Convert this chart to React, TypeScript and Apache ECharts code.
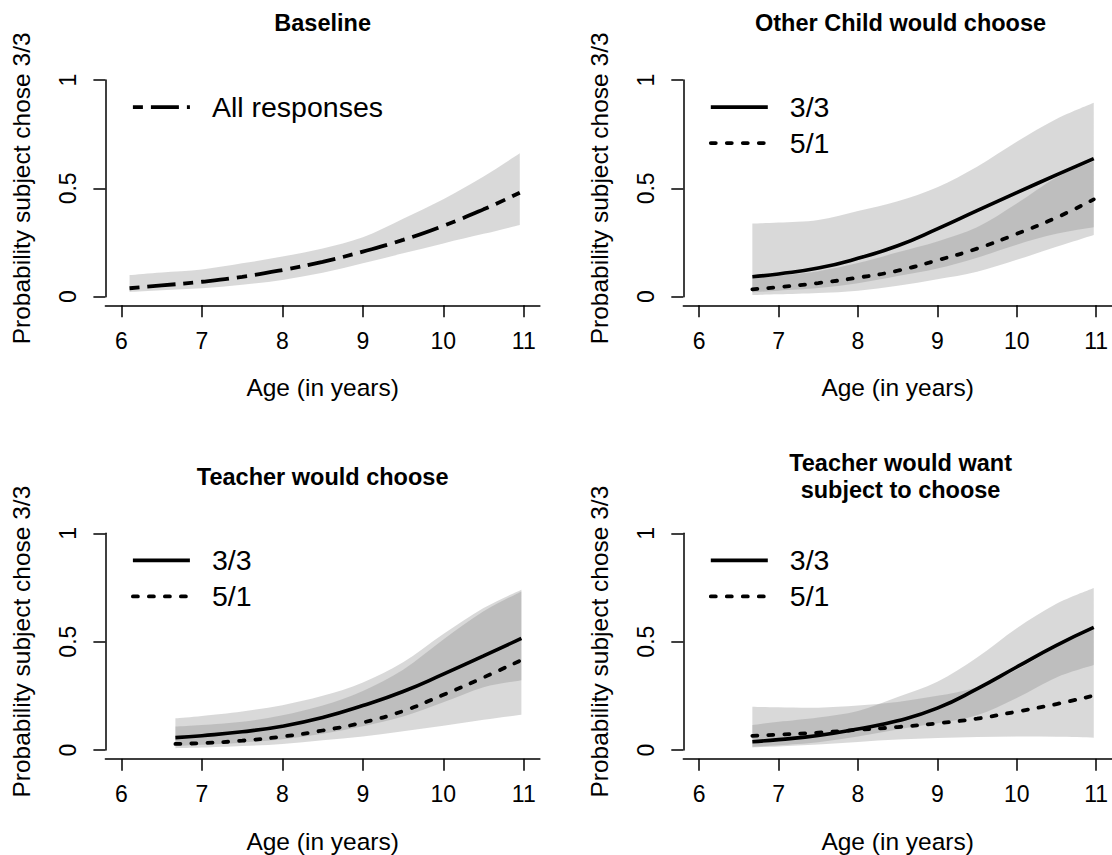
import React, { useEffect, useRef } from "react";
import * as echarts from "echarts";

// ---------- data ----------
const xTicks = [6, 7, 8, 9, 10, 11];
const yTicks = [0, 0.5, 1];

const panelTitles = [
  "Baseline",
  "Other Child would choose",
  "Teacher would choose",
  "Teacher would want\nsubject to choose",
];
const xAxisTitle = "Age (in years)";
const yAxisTitle = "Probability subject chose 3/3";
const legendBaseline = ["All responses"];
const legendCond = ["3/3", "5/1"];

// Baseline
const agesBaseline = [6.1, 6.5, 7, 7.5, 8, 8.5, 9, 9.5, 10, 10.5, 10.95];
const baselineFit = [0.039, 0.052, 0.069, 0.092, 0.123, 0.161, 0.208, 0.262, 0.327, 0.403, 0.48];
const baselineLow = [0.022, 0.03, 0.039, 0.055, 0.077, 0.11, 0.154, 0.2, 0.246, 0.29, 0.331];
const baselineHigh = [0.1, 0.112, 0.126, 0.154, 0.185, 0.223, 0.274, 0.36, 0.45, 0.555, 0.662];

// Conditions (shared ages)
const agesCond = [6.67, 7, 7.5, 8, 8.5, 9, 9.5, 10, 10.5, 10.97];

// Other Child would choose
const otherFit33 = [0.092, 0.105, 0.132, 0.177, 0.235, 0.313, 0.397, 0.48, 0.562, 0.637];
const otherLow33 = [0.02, 0.028, 0.04, 0.062, 0.095, 0.13, 0.18, 0.24, 0.29, 0.32];
const otherHigh33 = [0.338, 0.342, 0.354, 0.395, 0.44, 0.505, 0.6, 0.715, 0.82, 0.895];
const otherFit51 = [0.034, 0.044, 0.063, 0.088, 0.12, 0.168, 0.222, 0.29, 0.365, 0.449];
const otherLow51 = [0.008, 0.011, 0.017, 0.028, 0.05, 0.08, 0.115, 0.17, 0.23, 0.285];
const otherHigh51 = [0.085, 0.097, 0.118, 0.155, 0.205, 0.255, 0.32, 0.43, 0.55, 0.625];

// Teacher would choose
const teacherFit33 = [0.057, 0.066, 0.084, 0.11, 0.15, 0.205, 0.27, 0.35, 0.434, 0.515];
const teacherLow33 = [0.018, 0.024, 0.034, 0.05, 0.075, 0.11, 0.155, 0.22, 0.29, 0.322];
const teacherHigh33 = [0.146, 0.157, 0.178, 0.207, 0.25, 0.312, 0.405, 0.535, 0.655, 0.74];
const teacherFit51 = [0.028, 0.032, 0.043, 0.062, 0.09, 0.127, 0.18, 0.255, 0.335, 0.415];
const teacherLow51 = [0.008, 0.011, 0.018, 0.028, 0.045, 0.062, 0.087, 0.112, 0.14, 0.163];
const teacherHigh51 = [0.108, 0.115, 0.13, 0.16, 0.205, 0.272, 0.37, 0.51, 0.64, 0.732];

// Teacher would want subject to choose
const wantFit33 = [0.038, 0.048, 0.067, 0.097, 0.135, 0.193, 0.282, 0.383, 0.483, 0.566];
const wantLow33 = [0.015, 0.022, 0.036, 0.062, 0.095, 0.123, 0.16, 0.24, 0.335, 0.392];
const wantHigh33 = [0.115, 0.13, 0.15, 0.18, 0.245, 0.315, 0.427, 0.562, 0.675, 0.748];
const wantFit51 = [0.065, 0.071, 0.08, 0.093, 0.106, 0.123, 0.145, 0.177, 0.212, 0.251];
const wantLow51 = [0.012, 0.016, 0.025, 0.037, 0.048, 0.055, 0.06, 0.062, 0.061, 0.057];
const wantHigh51 = [0.2, 0.197, 0.195, 0.205, 0.222, 0.25, 0.29, 0.37, 0.475, 0.555];

// ---------- layout & styles ----------
const FONT = "'Liberation Sans', Arial, Helvetica, sans-serif";
const PLOT_W = 434.5;
const UNIT_Y = 216.7;
const X_MIN = 5.8;
const X_MAX = 11.2;
const Y_PAD = 0.04;
const BAND = "rgba(128,128,128,0.3)";
const layouts = [
  { left: 105.4, tick1: 80, titleY: 23.3 },
  { left: 683.3, tick1: 80, titleY: 23.3 },
  { left: 105.4, tick1: 533.3, titleY: 476.7 },
  { left: 683.3, tick1: 533.3, titleY: 476.7 },
];
const solidStyle = { color: "#000", width: 3.6, type: "solid" };
const dottedStyle = { color: "#000", width: 3.8, type: [5, 11], cap: "round" };
const twodashStyle = { color: "#000", width: 3.8, type: [10, 8, 28, 8], cap: "butt" };

const pairs = (xs: number[], ys: number[]) => xs.map((x, i) => [x, ys[i]]);

// Catmull-Rom spline through screen points, as cubic bezier commands
function splineCmds(pts: number[][]) {
  let d = "";
  for (let i = 0; i < pts.length - 1; i++) {
    const p0 = pts[i - 1] || pts[i];
    const p1 = pts[i];
    const p2 = pts[i + 1];
    const p3 = pts[i + 2] || p2;
    const c1x = p1[0] + (p2[0] - p0[0]) / 6;
    const c1y = p1[1] + (p2[1] - p0[1]) / 6;
    const c2x = p2[0] - (p3[0] - p1[0]) / 6;
    const c2y = p2[1] - (p3[1] - p1[1]) / 6;
    d += ` C${c1x.toFixed(2)} ${c1y.toFixed(2)} ${c2x.toFixed(2)} ${c2y.toFixed(2)} ${p2[0].toFixed(2)} ${p2[1].toFixed(2)}`;
  }
  return d;
}

function band(id: string, axis: number, ages: number[], low: number[], high: number[]) {
  return {
    type: "custom",
    name: id,
    coordinateSystem: "cartesian2d",
    xAxisIndex: axis,
    yAxisIndex: axis,
    silent: true,
    z: 1,
    encode: { x: 0, y: [1, 2] },
    data: ages.map((a, i) => [a, low[i], high[i]]),
    renderItem: (params: any, api: any) => {
      if (params.dataIndex !== 0) return null;
      const n = ages.length;
      const upper: number[][] = [];
      const lower: number[][] = [];
      for (let i = 0; i < n; i++) {
        const x = api.value(0, i);
        upper.push(api.coord([x, api.value(2, i)]));
        lower.push(api.coord([x, api.value(1, i)]));
      }
      lower.reverse();
      const d =
        `M${upper[0][0].toFixed(2)} ${upper[0][1].toFixed(2)}` +
        splineCmds(upper) +
        ` L${lower[0][0].toFixed(2)} ${lower[0][1].toFixed(2)}` +
        splineCmds(lower) +
        " Z";
      return { type: "path", shape: { pathData: d }, style: { fill: BAND, stroke: "none" } };
    },
  };
}

function curve(name: string, axis: number, ages: number[], fit: number[], style: any) {
  return {
    type: "line",
    name,
    xAxisIndex: axis,
    yAxisIndex: axis,
    symbol: "none",
    smooth: 0.5,
    silent: true,
    color: "#000",
    lineStyle: style,
    data: pairs(ages, fit),
    z: 3,
  };
}

function buildOption() {
  const grid: any[] = [];
  const xAxis: any[] = [];
  const yAxis: any[] = [];
  const title: any[] = [];
  const legend: any[] = [];
  const series: any[] = [];

  layouts.forEach((L, p) => {
    const gA = 2 * p;
    const gB = 2 * p + 1;
    grid.push({ left: L.left, top: L.tick1 - Y_PAD * UNIT_Y, width: PLOT_W, height: (1 + 2 * Y_PAD) * UNIT_Y });
    grid.push({ left: L.left, top: L.tick1, width: PLOT_W, height: UNIT_Y });

    xAxis.push({
      type: "value",
      gridIndex: gA,
      min: X_MIN,
      max: X_MAX,
      splitLine: { show: false },
      axisLine: { show: true, onZero: false, lineStyle: { color: "#000", width: 1.5 } },
      axisTick: { show: true, customValues: xTicks, length: 12, lineStyle: { color: "#000", width: 1.5 } },
      axisLabel: { customValues: xTicks, margin: 24, fontSize: 23, color: "#000", fontFamily: FONT },
      name: xAxisTitle,
      nameLocation: "middle",
      nameGap: 70,
      nameTextStyle: { fontSize: 24.5, color: "#000", fontFamily: FONT },
    });
    yAxis.push({ type: "value", gridIndex: gA, min: -Y_PAD, max: 1 + Y_PAD, show: false });

    xAxis.push({ type: "value", gridIndex: gB, min: X_MIN, max: X_MAX, show: false });
    yAxis.push({
      type: "value",
      gridIndex: gB,
      min: 0,
      max: 1,
      splitLine: { show: false },
      axisLine: { show: true, onZero: false, lineStyle: { color: "#000", width: 1.5 } },
      axisTick: { show: true, customValues: yTicks, length: 12, lineStyle: { color: "#000", width: 1.5 } },
      axisLabel: { customValues: yTicks, rotate: 90, margin: 26, fontSize: 23, color: "#000", fontFamily: FONT },
      name: yAxisTitle,
      nameLocation: "middle",
      nameGap: 71,
      nameTextStyle: { fontSize: 24.5, color: "#000", fontFamily: FONT },
    });

    title.push({
      text: panelTitles[p],
      left: L.left + PLOT_W / 2,
      top: L.titleY,
      textAlign: "center",
      textVerticalAlign: "middle",
      padding: 0,
      textStyle: { fontSize: 23.5, fontWeight: "bold", color: "#000", fontFamily: FONT, lineHeight: 26.7 },
    });

    legend.push({
      orient: "vertical",
      left: L.left + 25.6,
      top: L.tick1 + 26.6 - 14,
      padding: 0,
      itemWidth: 57,
      itemHeight: 28,
      itemGap: 7,
      selectedMode: false,
      data: p === 0 ? legendBaseline : legendCond,
      lineStyle: { width: "inherit" },
      itemStyle: { opacity: 0 },
      textStyle: { fontSize: 28.5, color: "#000", fontFamily: FONT, padding: [0, 0, 0, 17] },
    });
  });

  // Panel 1: baseline
  series.push(band("band-p1", 0, agesBaseline, baselineLow, baselineHigh));
  series.push(curve(legendBaseline[0], 0, agesBaseline, baselineFit, twodashStyle));

  // Panel 2
  series.push(band("band-p2-33", 2, agesCond, otherLow33, otherHigh33));
  series.push(band("band-p2-51", 2, agesCond, otherLow51, otherHigh51));
  series.push(curve(legendCond[0], 2, agesCond, otherFit33, solidStyle));
  series.push(curve(legendCond[1], 2, agesCond, otherFit51, dottedStyle));

  // Panel 3
  series.push(band("band-p3-33", 4, agesCond, teacherLow33, teacherHigh33));
  series.push(band("band-p3-51", 4, agesCond, teacherLow51, teacherHigh51));
  series.push(curve(legendCond[0], 4, agesCond, teacherFit33, solidStyle));
  series.push(curve(legendCond[1], 4, agesCond, teacherFit51, dottedStyle));

  // Panel 4
  series.push(band("band-p4-33", 6, agesCond, wantLow33, wantHigh33));
  series.push(band("band-p4-51", 6, agesCond, wantLow51, wantHigh51));
  series.push(curve(legendCond[0], 6, agesCond, wantFit33, solidStyle));
  series.push(curve(legendCond[1], 6, agesCond, wantFit51, dottedStyle));

  return {
    animation: false,
    backgroundColor: "#fff",
    textStyle: { fontFamily: FONT, color: "#000" },
    grid,
    xAxis,
    yAxis,
    title,
    legend,
    series,
  };
}

export default function App() {
  const ref = useRef<HTMLDivElement>(null);
  useEffect(() => {
    if (!ref.current) return;
    const chart = echarts.init(ref.current, undefined, { renderer: "svg" });
    chart.setOption(buildOption() as any);
    return () => chart.dispose();
  }, []);
  return (
    <div
      ref={ref}
      style={{ position: "absolute", left: 0, top: 0, width: 1112, height: 855, background: "#fff" }}
    />
  );
}
